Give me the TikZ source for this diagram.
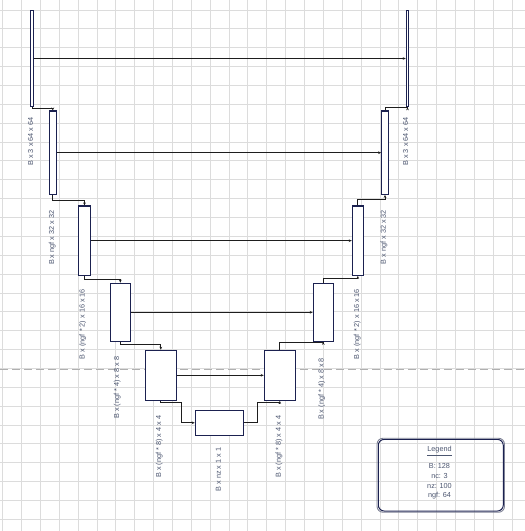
\documentclass[tikz,border=0pt]{standalone}
\usepackage{fontspec}
\setmainfont{Liberation Sans}
\usetikzlibrary{arrows.meta}

\definecolor{ink}{HTML}{1B2150}
\definecolor{wire}{HTML}{1E1E1E}
\definecolor{caption}{HTML}{4C5670}
\definecolor{canvasgrid}{HTML}{DCDCDC}
\definecolor{pagebreak}{HTML}{B0B0B0}
\definecolor{rough}{HTML}{7E8296}

\begin{document}
\begin{tikzpicture}[x=1bp,y=-1bp,font=\fontsize{7.3}{9.8}\selectfont,text=caption]
  \useasboundingbox (0,0) rectangle (525,531);
  % Canvas: grid and the page-break line sit behind the network.
  \fill[white] (0,0) rectangle (525,531);
  \foreach \k in {0,...,27} {
    \draw[canvasgrid,line width=.8bp] ({2.7+18.86*\k},0) -- ({2.7+18.86*\k},531);
    \draw[canvasgrid,line width=.8bp] (0,{10+18.86*\k}) -- (525,{10+18.86*\k});
  }
  \draw[pagebreak,line width=.9bp,dash pattern=on 8bp off 4bp] (0,369.3) -- (525,369.3);

  \tikzset{
    block/.style={draw=ink,fill=white,line width=1.1bp,inner sep=0pt},
    link/.style={wire,line width=.95bp,-{Stealth[length=3bp,width=2.6bp]}},
    dims/.style={rotate=90,anchor=east,inner sep=0pt}
  }

  % Encoder blocks, shrinking towards the bottleneck.
  \node[block,minimum width=2.6bp,minimum height=96.4bp] (e1) at (32,58.5) {};
  \node[block,minimum width=7bp,minimum height=83.3bp] (e2) at (52.8,152.7) {};
  \node[block,minimum width=12.3bp,minimum height=69.3bp] (e3) at (84.5,240.7) {};
  \node[block,minimum width=20bp,minimum height=58bp] (e4) at (120.3,312.3) {};
  \node[block,minimum width=31bp,minimum height=50bp] (e5) at (160.8,375.3) {};
  \node[block,minimum width=48.4bp,minimum height=25bp] (z) at (219.5,422.8) {};

  % Decoder blocks, mirrored on the right.
  \node[block,minimum width=31bp,minimum height=50bp] (d5) at (279.8,375.3) {};
  \node[block,minimum width=20bp,minimum height=58bp] (d4) at (323.3,312.3) {};
  \node[block,minimum width=11bp,minimum height=69.3bp] (d3) at (357.8,240.7) {};
  \node[block,minimum width=6.6bp,minimum height=83.3bp] (d2) at (385,152.7) {};
  \node[block,minimum width=2.4bp,minimum height=96.4bp] (d1) at (407.5,58.5) {};

  % Down path, bottleneck, up path.
  \draw[link] (e1.south) -- ++(0,1) -| (e2.north);
  \draw[link] (e2.south) -- ++(0,5.7) -| (e3.north);
  \draw[link] (e3.south) -- ++(0,3.2) -| (e4.north);
  \draw[link] (e4.south) -- ++(0,2.4) -| (e5.north);
  \draw[link] (e5.south) -- ++(0,1.7) -- ++(20.9,0) |- (z.west);
  \draw[link] (z.east) -- ++(13.6,0) |- ([yshift=-1.7bp]d5.south) -- (d5.south);
  \draw[link] (d5.north) -- ++(0,-7) -| (d4.south);
  \draw[link] (d4.north) -- ++(0,-4) -| (d3.south);
  \draw[link] (d3.north) -- ++(0,-6) -| (d2.south);
  \draw[link] (d2.north) -- ++(0,-2.7) -| (d1.south);

  % Skip connections straight across.
  \draw[link] (e1.east) -- (d1.west);
  \draw[link] (e2.east) -- (d2.west);
  \draw[link] (e3.east) -- (d3.west);
  \draw[link] (e4.east) -- (d4.west);
  \draw[link] (e5.east) -- (d5.west);

  % Tensor shapes under each block.
  \node[dims] (le1) at ([xshift=-1.5bp,yshift=-10bp]e1.south) {B x 3 x 64 x 64};
  \node[dims] (le2) at ([xshift=-.5bp,yshift=-15.7bp]e2.south) {B x ngf x 32 x 32};
  \node[dims] (le3) at ([xshift=-1.8bp,yshift=-13bp]e3.south) {B x (ngf * 2) x 16 x 16};
  \node[dims] (le4) at ([xshift=-3bp,yshift=-14.7bp]e4.south) {B x (ngf * 4) x 8 x 8};
  \node[dims] (le5) at ([xshift=-1.5bp,yshift=-14.7bp]e5.south) {B x (ngf * 8) x 4 x 4};
  \node[dims] (lz) at ([xshift=-1.2bp,yshift=-11.7bp]z.south) {B x nz x 1 x 1};
  \node[dims] (ld5) at ([xshift=-.8bp,yshift=-14.7bp]d5.south) {B x (ngf * 8) x 4 x 4};
  \node[dims] (ld4) at ([xshift=-1.6bp,yshift=-16bp]d4.south) {B x (ngf * 4) x 8 x 8};
  \node[dims] (ld3) at ([xshift=-.5bp,yshift=-13bp]d3.south) {B x (ngf * 2) x 16 x 16};
  \node[dims] (ld2) at ([xshift=-1bp,yshift=-15bp]d2.south) {B x ngf x 32 x 32};
  \node[dims] (ld1) at ([xshift=-1.8bp,yshift=-10bp]d1.south) {B x 3 x 64 x 64};

  % Legend box with a hand-drawn double edge.
  \node[draw=ink,line width=1bp,rounded corners=6bp,minimum width=125bp,minimum height=71.7bp] (legend) at (440.8,475.2) {};
  \draw[rough,line width=.9bp,rounded corners=6bp] ([shift={(-.8bp,-.7bp)}]legend.south west) rectangle ([shift={(.7bp,.6bp)}]legend.north east);
  \node[align=center,inner sep=0pt] (legendtext) at (439.5,473) {\underline{Legend}\\[6.9bp]B: 128\\nc: 3\\nz: 100\\ngf: 64};
\end{tikzpicture}
\end{document}
